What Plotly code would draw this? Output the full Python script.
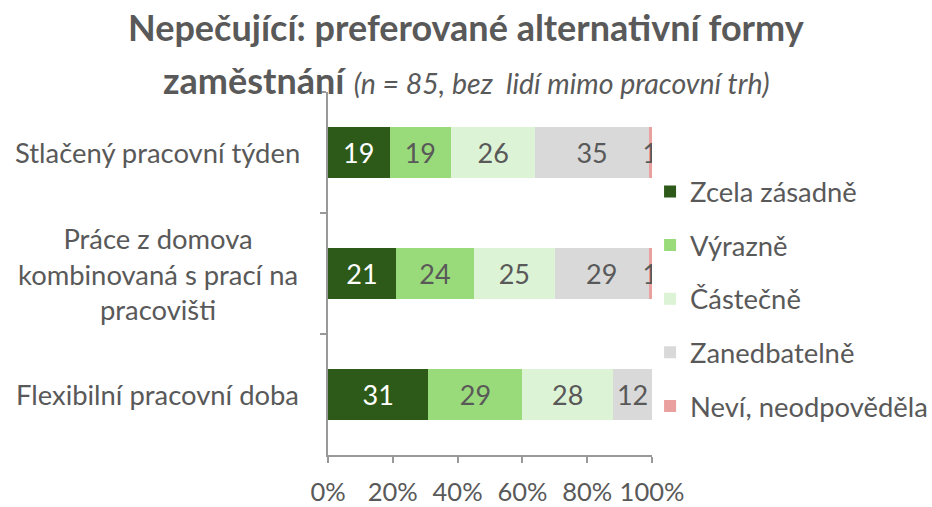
import plotly.graph_objects as go

categories = ["Stlačený pracovní týden",
              "Práce z domova<br>kombinovaná s prací na<br>pracovišti",
              "Flexibilní pracovní doba"]
series_names = ["Zcela zásadně", "Výrazně", "Částečně", "Zanedbatelně", "Neví, neodpověděla"]
zcela = [19, 21, 31]
vyrazne = [19, 24, 29]
castecne = [26, 25, 28]
zanedbatelne = [35, 29, 12]
nevi = [1, 1, 0]
x_tick_vals = [0, 20, 40, 60, 80, 100]
x_tick_text = ["0%", "20%", "40%", "60%", "80%", "100%"]
title_line1 = "Nepečující: preferované alternativní formy"
title_line2 = "zaměstnání"
subtitle = "(n = 85, bez  lidí mimo pracovní trh)"

series_values = [zcela, vyrazne, castecne, zanedbatelne, nevi]
colors = ["#2D5A18", "#99DB7A", "#DDF3D6", "#D9D9D9", "#EBA0A0"]
text_colors = ["#FFFFFF", "#595959", "#595959", "#595959", "#595959"]

FONT = "Lato"
GREY = "#595959"

fig = go.Figure()
for name, vals, col, tcol in zip(series_names, series_values, colors, text_colors):
    fig.add_trace(go.Bar(
        y=categories, x=vals, name=name, orientation="h",
        marker=dict(color=col, line=dict(width=0)),
        text=[str(v) if v > 0 else "" for v in vals],
        textposition="inside", insidetextanchor="middle",
        constraintext="none",
        textfont=dict(family=FONT, size=27, color=tcol),
        legendgroup=name, hoverinfo="skip",
    ))

annotations = []
for c in categories:
    annotations.append(dict(
        text=c, x=-0.525, xref="paper", y=c, yref="y",
        xanchor="center", yanchor="middle", align="center",
        showarrow=False, font=dict(family=FONT, size=27.4, color=GREY)))

annotations.append(dict(
    text="<b>" + title_line1 + "</b>", x=0.426, xref="paper", y=1.178, yref="paper",
    xanchor="center", yanchor="middle", showarrow=False,
    font=dict(family=FONT, size=36, color=GREY)))
annotations.append(dict(
    text="<b>" + title_line2 + "</b> <i><span style='font-size:28.5px'>" + subtitle + "</span></i>",
    x=0.426, xref="paper", y=1.033, yref="paper",
    xanchor="center", yanchor="middle", showarrow=False,
    font=dict(family=FONT, size=36, color=GREY)))

fig.update_layout(
    width=932, height=507,
    barmode="stack", bargap=0.58,
    paper_bgcolor="white", plot_bgcolor="white",
    margin=dict(l=328, r=280, t=92, b=52, autoexpand=False),
    showlegend=True,
    legend=dict(x=0.994, xanchor="left", y=0.793, yanchor="top",
                traceorder="grouped", tracegroupgap=15,
                font=dict(family=FONT, size=27.4, color=GREY),
                itemwidth=30, bgcolor="rgba(0,0,0,0)"),
    annotations=annotations,
    font=dict(family=FONT, color=GREY),
)
fig.update_xaxes(range=[0, 100], tickvals=x_tick_vals, ticktext=x_tick_text,
                 showgrid=False, zeroline=False, showline=True, linecolor="#999999",
                 linewidth=1.5, ticks="outside", ticklen=6, tickcolor="#999999",
                 tickwidth=1.5, ticklabelstandoff=8,
                 tickfont=dict(family=FONT, size=25.5, color=GREY), fixedrange=True)
fig.update_yaxes(autorange="reversed", showgrid=False, zeroline=False,
                 showline=True, linecolor="#999999", linewidth=1.5,
                 ticks="outside", tickson="boundaries", ticklen=6,
                 tickcolor="#999999", tickwidth=1.5, showticklabels=False,
                 fixedrange=True)

fig.write_html("out.html", config={"displayModeBar": False},
               post_script="document.body.style.margin='0';")
